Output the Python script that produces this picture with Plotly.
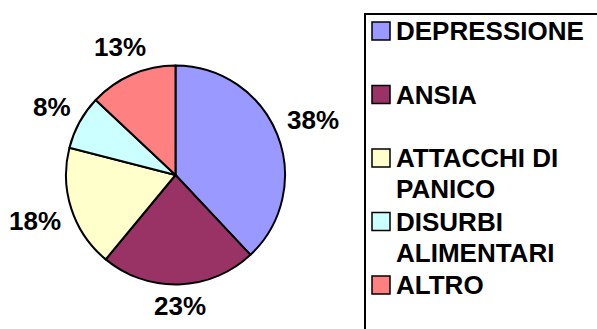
import math
import plotly.graph_objects as go

W, H = 597, 329

categories = ["DEPRESSIONE", "ANSIA", "ATTACCHI DI PANICO", "DISURBI ALIMENTARI", "ALTRO"]
legend_text = ["DEPRESSIONE", "ANSIA", "ATTACCHI DI<br>PANICO", "DISURBI<br>ALIMENTARI", "ALTRO"]
values = [38, 23, 18, 8, 13]
colors = ["#9999FF", "#993366", "#FFFFCC", "#CCFFFF", "#FF8080"]

FONT = "Liberation Sans, Arial, sans-serif"
FS = 26

def px(x):
    return x / W

def py(y):
    return 1 - y / H

# pie geometry (pixels)
cx, cy, r = 175.5, 175, 109.5

fig = go.Figure()
fig.add_trace(go.Pie(
    labels=categories,
    values=values,
    sort=False,
    direction="clockwise",
    rotation=0,
    marker=dict(colors=colors, line=dict(color="black", width=2)),
    textinfo="none",
    showlegend=False,
    domain=dict(x=[px(cx - r), px(cx + r)], y=[py(cy + r), py(cy - r)]),
))

annotations = []
# percentage labels placed outside each slice along its mid-angle
total = sum(values)
cum = 0
for v in values:
    mid = (cum + v / 2) / total * 2 * math.pi
    cum += v
    s, c = math.sin(mid), math.cos(mid)
    pct = f"{round(v / total * 100)}%"
    hw = (0.556 * (len(pct) - 1) + 0.889) * FS / 2
    hh = 0.36 * FS
    d = r + 11 + abs(s) * hw + abs(c) * hh
    annotations.append(dict(xref="paper", yref="paper",
                            x=px(cx + d * s), y=py(cy - d * c),
                            xanchor="center", yanchor="middle", showarrow=False,
                            text=pct, font=dict(family=FONT, size=FS, color="black", weight="bold")))

shapes = [dict(type="rect", xref="paper", yref="paper",
               x0=px(365), x1=px(W + 10), y0=py(H + 10), y1=py(14),
               line=dict(color="black", width=2), fillcolor="rgba(0,0,0,0)")]
y_first, step, line_h = 31, 63.5, 31
for i, (txt, col) in enumerate(zip(legend_text, colors)):
    yc = y_first + i * step
    shapes.append(dict(type="rect", xref="paper", yref="paper",
                       x0=px(372), x1=px(390), y0=py(yc + 9), y1=py(yc - 9),
                       line=dict(color="black", width=1.5), fillcolor=col))
    for j, line in enumerate(txt.split("<br>")):
        annotations.append(dict(xref="paper", yref="paper", x=px(394), y=py(yc + j * line_h),
                                xanchor="left", yanchor="middle", showarrow=False,
                                text=line, font=dict(family=FONT, size=FS, color="black", weight="bold")))

fig.update_layout(
    width=W, height=H,
    margin=dict(l=0, r=0, t=0, b=0),
    paper_bgcolor="white", plot_bgcolor="white",
    shapes=shapes, annotations=annotations,
    showlegend=False,
)

fig.write_html("out.html")
